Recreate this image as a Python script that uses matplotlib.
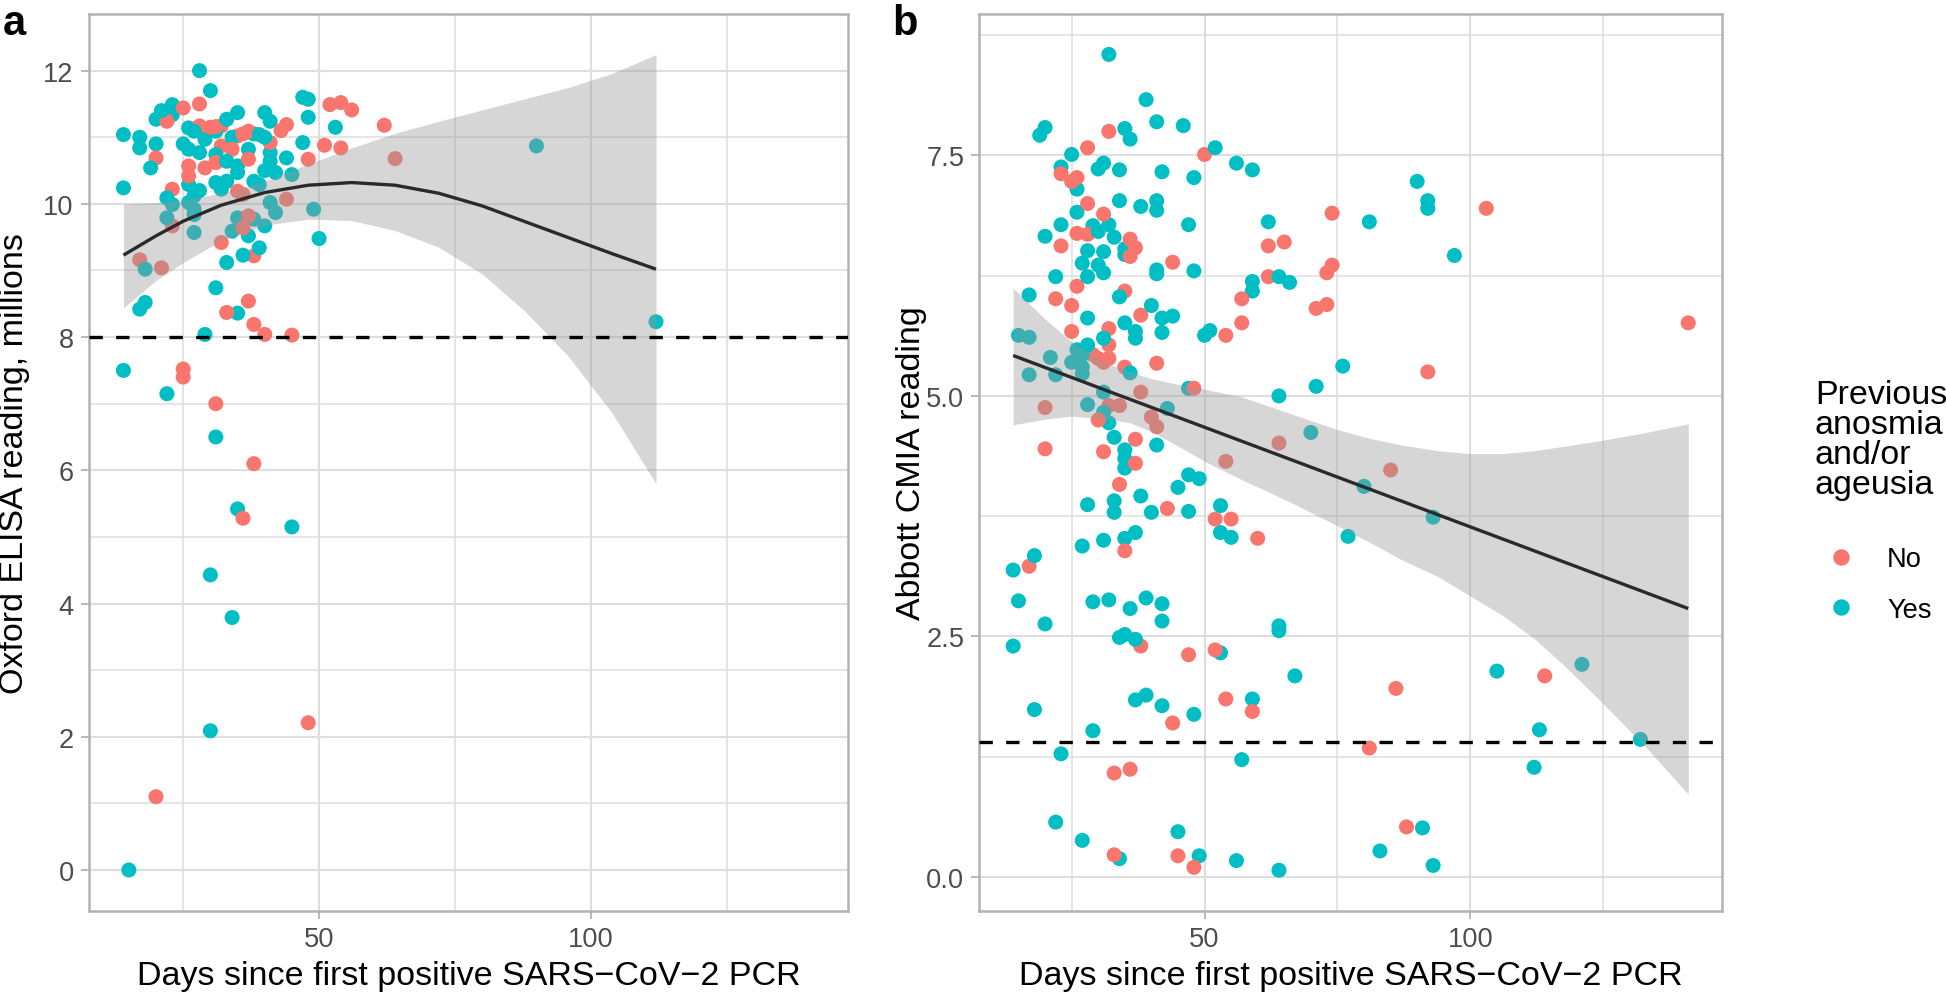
import numpy as np
import matplotlib
matplotlib.use('Agg')
import matplotlib.pyplot as plt
from matplotlib.lines import Line2D

plt.rcParams['font.family'] = ['Liberation Sans', 'DejaVu Sans']

# Panel a: Oxford ELISA (millions) vs days since first positive PCR
elisa_yes_days = [14, 14, 14, 15, 17, 17, 18, 18, 17, 30, 28, 23, 21, 20, 23, 47, 48, 48, 53, 35,
                  40, 41, 33, 20, 26, 25, 27, 29, 31, 39, 40, 34, 38, 19, 26, 28, 31, 37, 41, 41,
                  44, 47, 33, 35, 35, 45, 42, 40, 26, 22, 23, 27, 28, 31, 32, 33, 38, 39, 41, 49,
                  42, 27, 26, 22, 27, 27, 35, 38, 40, 34, 37, 39, 50, 36, 33, 31, 35, 29, 22, 31,
                  35, 45, 30, 34, 30, 90, 112]
elisa_yes_vals = [11.04, 10.24, 7.50, 0.00, 11.00, 10.84, 9.02, 8.52, 8.42, 11.70, 12.00, 11.49, 11.40,
                  11.27, 11.34, 11.60, 11.57, 11.30, 11.15, 11.37, 11.37, 11.24, 11.27, 10.90, 11.14,
                  10.90, 11.09, 10.97, 11.09, 11.04, 11.00, 11.00, 11.05, 10.54, 10.82, 10.77, 10.74,
                  10.82, 10.77, 10.64, 10.69, 10.92, 10.64, 10.57, 10.47, 10.44, 10.47, 10.50, 10.29,
                  10.09, 9.99, 10.12, 10.20, 10.32, 10.22, 10.34, 10.34, 10.29, 10.02, 9.92, 9.87,
                  9.92, 10.02, 9.79, 9.84, 9.57, 9.79, 9.77, 9.67, 9.59, 9.52, 9.34, 9.48, 9.23,
                  9.12, 8.74, 8.36, 8.04, 7.15, 6.50, 5.42, 5.15, 4.43, 3.79, 2.09, 10.87, 8.23]
elisa_no_days = [28, 25, 22, 52, 54, 56, 62, 44, 43, 28, 30, 32, 31, 35, 36, 37, 41, 20, 32, 34,
                 37, 48, 51, 54, 64, 26, 26, 29, 31, 23, 35, 36, 44, 23, 37, 36, 32, 38, 17, 21,
                 37, 33, 38, 40, 45, 25, 25, 31, 38, 36, 48, 20]
elisa_no_vals = [11.50, 11.44, 11.24, 11.49, 11.52, 11.41, 11.18, 11.19, 11.10, 11.17, 11.15, 11.17,
                 11.16, 11.02, 11.05, 11.09, 10.92, 10.69, 10.87, 10.82, 10.67, 10.67, 10.88, 10.84,
                 10.68, 10.57, 10.42, 10.54, 10.62, 10.22, 10.19, 10.14, 10.07, 9.67, 9.82, 9.64,
                 9.42, 9.22, 9.16, 9.04, 8.54, 8.37, 8.19, 8.04, 8.03, 7.52, 7.40, 7.00, 6.10,
                 5.28, 2.21, 1.10]

# quadratic smooth of panel a (fit and 95% band)
elisa_smooth_days = [14, 20, 25, 32, 40, 48, 56, 64, 72, 80, 88, 96, 104, 112]
elisa_smooth_fit = [9.23, 9.52, 9.74, 9.98, 10.17, 10.28, 10.32, 10.28, 10.16, 9.97, 9.73, 9.49, 9.25, 9.02]
elisa_smooth_lo = [8.44, 8.85, 9.12, 9.45, 9.68, 9.77, 9.75, 9.60, 9.35, 8.95, 8.38, 7.70, 6.85, 5.80]
elisa_smooth_hi = [10.00, 10.02, 10.06, 10.16, 10.34, 10.60, 10.84, 11.06, 11.24, 11.41, 11.58, 11.75,
                   11.96, 12.24]

# Panel b: Abbott CMIA index vs days since first positive PCR
cmia_yes_days = [32, 39, 41, 46, 20, 19, 35, 36, 25, 52, 56, 23, 26, 30, 31, 34, 42, 48, 34, 38,
                 41, 41, 26, 23, 47, 20, 29, 32, 30, 33, 35, 35, 28, 31, 27, 30, 31, 28, 22, 41,
                 41, 48, 17, 34, 40, 42, 44, 28, 35, 37, 37, 42, 51, 50, 15, 17, 31, 28, 26, 27,
                 21, 25, 27, 27, 36, 17, 22, 31, 47, 28, 31, 43, 32, 33, 41, 35, 35, 35, 45, 47,
                 49, 38, 28, 33, 33, 40, 47, 53, 37, 35, 31, 27, 53, 55, 18, 14, 15, 29, 32, 36,
                 39, 42, 42, 20, 14, 34, 35, 37, 53, 37, 39, 42, 48, 18, 29, 23, 57, 22, 27, 34,
                 45, 49, 56, 59, 90, 92, 92, 62, 81, 97, 64, 66, 59, 59, 76, 71, 64, 70, 80, 93,
                 77, 64, 64, 67, 59, 105, 121, 113, 132, 112, 91, 83, 93, 64]
cmia_yes_vals = [8.55, 8.08, 7.85, 7.81, 7.79, 7.71, 7.78, 7.67, 7.51, 7.58, 7.42, 7.38, 7.15, 7.36,
                 7.42, 7.35, 7.33, 7.27, 7.03, 6.97, 7.03, 6.93, 6.91, 6.78, 6.78, 6.66, 6.77, 6.78,
                 6.71, 6.65, 6.53, 6.47, 6.51, 6.50, 6.38, 6.36, 6.28, 6.24, 6.24, 6.31, 6.27, 6.30,
                 6.05, 6.03, 5.94, 5.81, 5.83, 5.81, 5.76, 5.67, 5.60, 5.66, 5.68, 5.63, 5.63, 5.61,
                 5.60, 5.53, 5.48, 5.43, 5.40, 5.35, 5.30, 5.23, 5.24, 5.22, 5.22, 5.04, 5.08, 4.91,
                 4.83, 4.87, 4.72, 4.57, 4.49, 4.44, 4.35, 4.25, 4.05, 4.18, 4.14, 3.96, 3.87, 3.91,
                 3.79, 3.79, 3.80, 3.86, 3.58, 3.52, 3.50, 3.44, 3.58, 3.53, 3.34, 3.19, 2.87, 2.86,
                 2.88, 2.79, 2.90, 2.84, 2.66, 2.63, 2.40, 2.49, 2.52, 2.47, 2.33, 1.84, 1.89, 1.78,
                 1.69, 1.74, 1.52, 1.28, 1.22, 0.57, 0.38, 0.19, 0.47, 0.22, 0.17, 7.35, 7.23, 7.03,
                 6.95, 6.81, 6.81, 6.46, 6.24, 6.18, 6.19, 6.09, 5.31, 5.10, 5.00, 4.62, 4.06, 3.74,
                 3.54, 2.61, 2.56, 2.09, 1.85, 2.14, 2.21, 1.53, 1.43, 1.14, 0.51, 0.27, 0.12, 0.07]
cmia_no_days = [32, 28, 50, 23, 25, 26, 28, 31, 23, 26, 28, 36, 37, 36, 44, 26, 35, 22, 25, 38,
                32, 25, 54, 32, 29, 30, 32, 31, 35, 41, 38, 48, 20, 32, 34, 30, 40, 41, 37, 20,
                31, 37, 54, 34, 43, 52, 55, 35, 17, 38, 47, 52, 54, 44, 33, 36, 33, 45, 48, 57,
                57, 103, 74, 62, 65, 74, 73, 62, 71, 73, 141, 92, 64, 85, 60, 59, 86, 114, 81, 88]
cmia_no_vals = [7.75, 7.58, 7.51, 7.31, 7.23, 7.27, 7.00, 6.89, 6.56, 6.69, 6.68, 6.63, 6.54, 6.45,
                6.39, 6.14, 6.09, 6.01, 5.94, 5.84, 5.70, 5.67, 5.63, 5.53, 5.43, 5.39, 5.39, 5.35,
                5.30, 5.34, 5.04, 5.08, 4.88, 4.90, 4.90, 4.75, 4.78, 4.68, 4.55, 4.45, 4.42, 4.30,
                4.32, 4.08, 3.83, 3.72, 3.72, 3.39, 3.23, 2.40, 2.31, 2.36, 1.85, 1.60, 1.08, 1.12,
                0.23, 0.22, 0.10, 6.01, 5.76, 6.95, 6.90, 6.56, 6.60, 6.36, 6.28, 6.24, 5.91, 5.95,
                5.76, 5.25, 4.51, 4.23, 3.52, 1.72, 1.96, 2.09, 1.34, 0.52]

# linear smooth of panel b (line ends and 95% band)
cmia_line_days = [14, 141]
cmia_line_vals = [5.42, 2.79]
cmia_band_days = [14, 20, 25, 32, 36, 40, 45, 50, 57, 66, 75, 81, 87, 94, 100, 106, 112, 118, 125,
                  133, 141]
cmia_band_lo = [4.70, 4.76, 4.79, 4.76, 4.72, 4.63, 4.48, 4.32, 4.13, 3.90, 3.65, 3.48, 3.30, 3.12,
                2.92, 2.72, 2.48, 2.18, 1.80, 1.35, 0.86]
cmia_band_hi = [6.12, 5.80, 5.56, 5.33, 5.25, 5.18, 5.12, 5.07, 4.99, 4.82, 4.65, 4.56, 4.49, 4.43,
                4.40, 4.40, 4.43, 4.48, 4.54, 4.62, 4.71]

elisa_cutoff = 8.0
cmia_cutoff = 1.4

col_no = '#F8766D'
col_yes = '#00BFC4'
grid_col = '#DEDEDE'
border_col = '#B3B3B3'


def draw_panel(ax, yes_x, yes_y, no_x, no_y, band_x, band_lo, band_hi, line_x, line_y, cutoff):
    x = np.array(yes_x + no_x, dtype=float)
    y = np.array(yes_y + no_y, dtype=float)
    cols = np.array([col_yes] * len(yes_x) + [col_no] * len(no_x))
    order = np.argsort(x * 7.3 % 11, kind='stable')
    ax.scatter(x[order], y[order], s=117, c=cols[order], linewidths=0, zorder=2)
    ax.fill_between(band_x, band_lo, band_hi, color='#999999', alpha=0.4, lw=0, zorder=3)
    ax.plot(line_x, line_y, color='#2a2a2a', lw=2.4, zorder=4, solid_capstyle='butt')
    ax.axhline(cutoff, color='black', lw=2.4, linestyle=(0, (4, 4)), zorder=5)

    ax.set_xlim(7.65, 147.35)
    ax.set_xticks([50, 100])
    ax.set_xticks([25, 75, 125], minor=True)
    ax.set_axisbelow(True)
    ax.grid(which='major', color=grid_col, lw=1.5)
    ax.grid(which='minor', color=grid_col, lw=1.1)
    for s in ax.spines.values():
        s.set_color(border_col)
        s.set_linewidth(1.8)
    ax.tick_params(which='major', length=6.1, width=1.3, color=border_col,
                   labelsize=19.6, labelcolor='#4D4D4D', pad=4.9)
    ax.tick_params(which='minor', length=0)
    ax.set_xlabel('Days since first positive SARS\u2212CoV\u22122 PCR', fontsize=24.5)
    ax.xaxis.set_label_coords(0.5, -0.055)


fig = plt.figure(figsize=(19.46, 9.95), dpi=100)
ax_a = fig.add_axes([0.0457, 0.0838, 0.3901, 0.9011])
ax_b = fig.add_axes([0.5033, 0.0838, 0.3816, 0.9011])

draw_panel(ax_a, elisa_yes_days, elisa_yes_vals, elisa_no_days, elisa_no_vals,
           elisa_smooth_days, elisa_smooth_lo, elisa_smooth_hi,
           elisa_smooth_days, elisa_smooth_fit, elisa_cutoff)
ax_a.set_ylim(-0.61, 12.85)
ax_a.set_yticks([0, 2, 4, 6, 8, 10, 12])
ax_a.set_yticks([1, 3, 5, 7, 9, 11], minor=True)
ax_a.set_ylabel('Oxford ELISA reading, millions', fontsize=24.5, va='center')
ax_a.yaxis.set_label_coords(-0.0975, 0.5)

draw_panel(ax_b, cmia_yes_days, cmia_yes_vals, cmia_no_days, cmia_no_vals,
           cmia_band_days, cmia_band_lo, cmia_band_hi,
           cmia_line_days, cmia_line_vals, cmia_cutoff)
ax_b.set_ylim(-0.35, 8.97)
ax_b.set_yticks([0, 2.5, 5, 7.5])
ax_b.set_yticklabels(['0.0', '2.5', '5.0', '7.5'])
ax_b.set_yticks([1.25, 3.75, 6.25, 8.75], minor=True)
ax_b.set_ylabel('Abbott CMIA reading', fontsize=24.5, va='center')
ax_b.yaxis.set_label_coords(-0.0908, 0.5)

fig.text(3 / 1946, 1 - 35 / 995, 'a', fontsize=30, fontweight='bold', va='baseline')
fig.text(892 / 1946, 1 - 35 / 995, 'b', fontsize=30, fontweight='bold', va='baseline')

# legend: title as its own text block, keys below it
fig.text(1815 / 1946, 1 - 380 / 995, 'Previous\nanosmia\nand/or\nageusia', fontsize=24.5,
         va='top', ha='left', linespacing=0.96)
handles = [Line2D([], [], marker='o', ls='', color=col_no, markersize=10.8),
           Line2D([], [], marker='o', ls='', color=col_yes, markersize=10.8)]
fig.legend(handles, ['No', 'Yes'], loc='center left',
           bbox_to_anchor=(1815 / 1946, 1 - 585.5 / 995),
           frameon=False, fontsize=19.6, handlelength=1.9, handletextpad=0.75,
           labelspacing=0.9, borderpad=0, borderaxespad=0)

fig.savefig('out.png', dpi=100)
